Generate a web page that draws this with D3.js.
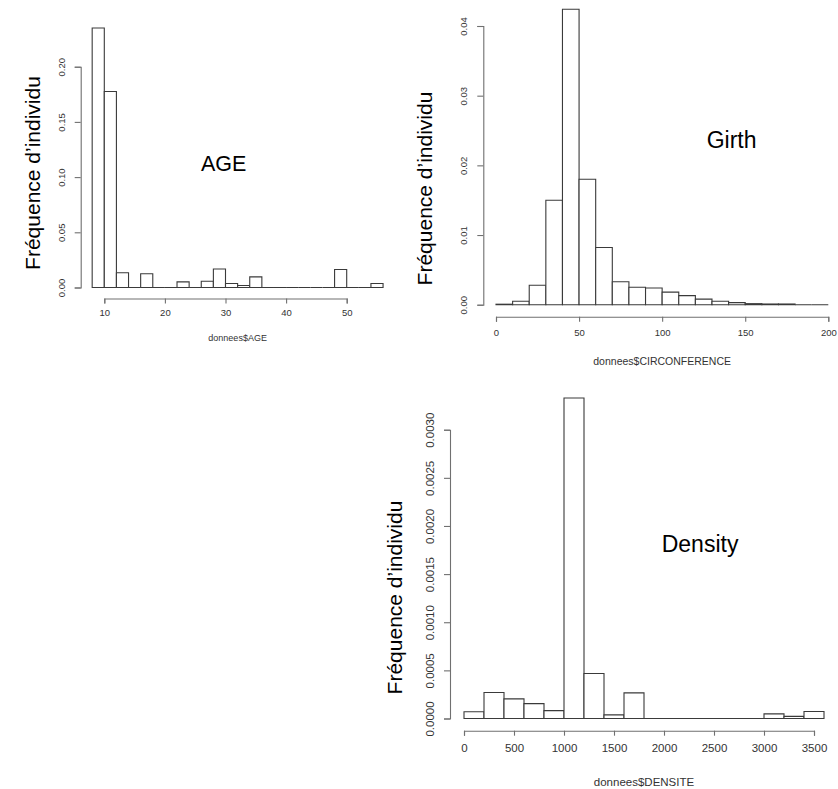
<!DOCTYPE html>
<html>
<head>
<meta charset="utf-8">
<script src="https://cdn.jsdelivr.net/npm/d3@7"></script>
<style>
  html, body { margin: 0; padding: 0; background: #fff; }
  svg { display: block; font-family: "Liberation Sans", Arial, sans-serif; }
</style>
</head>
<body>
<svg id="chart" width="838" height="789"></svg>
<script>
// ---------- DATA ----------
// AGE histogram (density), bins of width 2 starting at 8
const ageStart = 8;
const ageBinWidth = 2;
const ageValues = [0.235, 0.1775, 0.0134, 0, 0.0125, 0, 0, 0.0051, 0, 0.0057, 0.0168, 0.0036,
                   0.0018, 0.0096, 0, 0, 0, 0, 0, 0, 0.0163, 0, 0, 0.0036];
const ageXTicks = [10, 20, 30, 40, 50];
const ageYTicks = [0, 0.05, 0.10, 0.15, 0.20];

// CIRCONFERENCE (Girth) histogram, bins of width 10 starting at 0
const girthStart = 0;
const girthBinWidth = 10;
const girthValues = [0.00007, 0.0005, 0.0028, 0.0150, 0.0424, 0.0180, 0.0082, 0.0033, 0.0025, 0.0024,
                     0.0018, 0.0013, 0.0008, 0.0005, 0.0003, 0.00015, 0.0001, 0.0001, 0, 0];
const girthXTicks = [0, 50, 100, 150, 200];
const girthYTicks = [0, 0.01, 0.02, 0.03, 0.04];

// DENSITE histogram, bins of width 200 starting at 0
const densStart = 0;
const densBinWidth = 200;
const densValues = [0.000070, 0.00027, 0.000204, 0.000155, 0.000082, 0.00333, 0.000468, 0.000038, 0.000266,
                    0, 0, 0, 0, 0, 0, 0.000048, 0.000022, 0.000073];
const densXTicks = [0, 500, 1000, 1500, 2000, 2500, 3000, 3500];
const densYTicks = [0, 0.0005, 0.0010, 0.0015, 0.0020, 0.0025, 0.0030];

const yTitle = "Fréquence d’individu";

// ---------- DRAW ----------
const svg = d3.select("#chart");

function panel(opt) {
  const x = d3.scaleLinear().domain(opt.xDomain).range(opt.xRange);
  const y = d3.scaleLinear().domain(opt.yDomain).range(opt.yRange);
  const g = svg.append("g");

  const bins = opt.values.map((v, i) => ({
    x0: opt.start + i * opt.width,
    x1: opt.start + (i + 1) * opt.width,
    v: v
  }));

  g.append("g").selectAll("path").data(bins).join("path")
    .attr("d", d => {
      const p = d3.path();
      p.moveTo(x(d.x0), y(0));
      p.lineTo(x(d.x0), y(d.v));
      p.lineTo(x(d.x1), y(d.v));
      p.lineTo(x(d.x1), y(0));
      p.closePath();
      return p.toString();
    })
    .attr("fill", "#fff")
    .attr("stroke", "#3a3a3a")
    .attr("stroke-width", 1.1);

  // x axis
  const xa = g.append("g")
    .attr("transform", `translate(0,${opt.xAxisY})`)
    .call(d3.axisBottom(x).tickValues(opt.xTicks).tickSizeOuter(0).tickSize(5)
      .tickPadding(opt.xPad).tickFormat(d3.format("d")));
  xa.select(".domain").attr("stroke", "#707070").attr("stroke-width", 1.1);
  xa.selectAll(".tick line").attr("stroke", "#707070").attr("stroke-width", 1.1);
  xa.selectAll(".tick text").attr("fill", "#333").style("font-size", opt.tickFont + "px")
    .attr("dy", "0.71em");

  // y axis
  const ya = g.append("g")
    .attr("transform", `translate(${opt.yAxisX},0)`)
    .call(d3.axisLeft(y).tickValues(opt.yTicks).tickSizeOuter(0).tickSize(6)
      .tickFormat(d3.format(opt.yFmt)));
  ya.select(".domain").attr("stroke", "#707070").attr("stroke-width", 1.1);
  ya.selectAll(".tick line").attr("stroke", "#707070").attr("stroke-width", 1.1);
  ya.selectAll(".tick text")
    .attr("fill", "#333").style("font-size", opt.tickFont + "px")
    .attr("transform", "rotate(-90)")
    .attr("x", 0).attr("y", -opt.yLabOff).attr("dy", "0.35em")
    .attr("text-anchor", "middle");

  // x title
  g.append("text")
    .attr("x", x((opt.xExt[0] + opt.xExt[1]) / 2))
    .attr("y", opt.xTitleY)
    .attr("text-anchor", "middle")
    .attr("dy", "0.35em")
    .style("font-size", opt.xTitleFont + "px")
    .attr("fill", "#333")
    .text(opt.xTitle);

  // y title (large)
  g.append("text")
    .attr("transform", `translate(${opt.yTitleX},${opt.yTitleY}) rotate(-90)`)
    .attr("text-anchor", "middle")
    .attr("dy", "0.35em")
    .style("font-size", "21px")
    .attr("fill", "#000")
    .text(yTitle);

  // label
  g.append("text")
    .attr("x", opt.labelX).attr("y", opt.labelY)
    .style("font-size", opt.labelFont + "px")
    .attr("fill", "#000")
    .text(opt.label);
}

panel({
  start: ageStart, width: ageBinWidth, values: ageValues,
  xDomain: [10, 50], xRange: [104.3, 346.7],
  yDomain: [0, 0.2], yRange: [287.5, 66.7],
  xTicks: ageXTicks, yTicks: ageYTicks, yFmt: ".2f",
  xAxisY: 298.5, yAxisX: 80.7, xPad: 6, yLabOff: 19, tickFont: 9.5,
  xExt: [8, 56], xTitle: "donnees$AGE", xTitleY: 338, xTitleFont: 9,
  yTitleX: 32.5, yTitleY: 173,
  label: "AGE", labelX: 201, labelY: 170.7, labelFont: 21.5
});

panel({
  start: girthStart, width: girthBinWidth, values: girthValues,
  xDomain: [0, 200], xRange: [496, 828.3],
  yDomain: [0, 0.04], yRange: [304.7, 26],
  xTicks: girthXTicks, yTicks: girthYTicks, yFmt: ".2f",
  xAxisY: 316.7, yAxisX: 483.3, xPad: 8, yLabOff: 20, tickFont: 9.5,
  xExt: [0, 200], xTitle: "donnees$CIRCONFERENCE", xTitleY: 361.5, xTitleFont: 10.5,
  yTitleX: 425, yTitleY: 188.5,
  label: "Girth", labelX: 706.7, labelY: 148, labelFont: 23
});

panel({
  start: densStart, width: densBinWidth, values: densValues,
  xDomain: [0, 3500], xRange: [464, 814],
  yDomain: [0, 0.003], yRange: [718.5, 429.7],
  xTicks: densXTicks, yTicks: densYTicks, yFmt: ".4f",
  xAxisY: 730.7, yAxisX: 450, xPad: 8, yLabOff: 20, tickFont: 11.5,
  xExt: [0, 3600], xTitle: "donnees$DENSITE", xTitleY: 781.5, xTitleFont: 11.5,
  yTitleX: 395, yTitleY: 597.5,
  label: "Density", labelX: 661.7, labelY: 552.3, labelFont: 23
});
</script>
</body>
</html>
